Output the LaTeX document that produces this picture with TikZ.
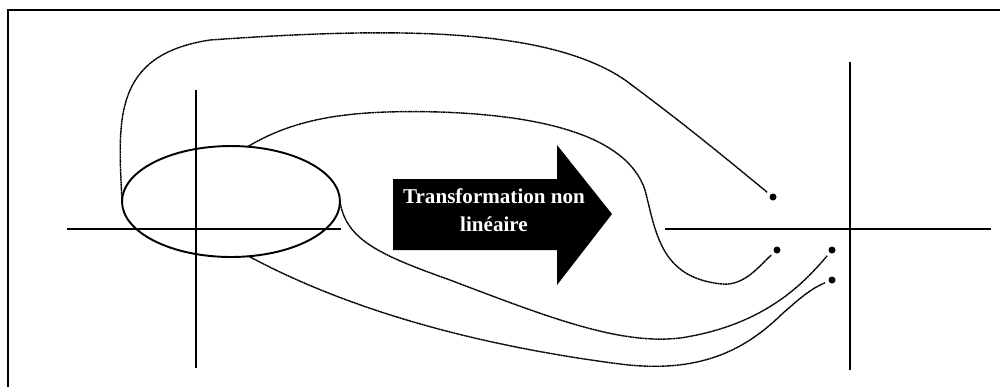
\documentclass[tikz,border=0pt]{standalone}
\usepackage{fontspec}
\setmainfont{Liberation Serif}
\usetikzlibrary{shapes.geometric}
\begin{document}
\begin{tikzpicture}[x=0.02cm,y=-0.02cm,
  axis/.style={line width=1.1pt},
  frameline/.style={line width=1.3pt},
  mapcurve/.style={line width=0.8pt, dash pattern=on 1.2pt off 0.25pt},
  ptdot/.style={circle, fill=black, inner sep=0pt, minimum size=0.14cm, outer sep=0.08cm},
  srcregion/.style={ellipse, draw, line width=1.1pt, inner sep=0pt, outer sep=0pt,
                 minimum width=4.36cm, minimum height=2.22cm},
  blockarrow/.style={fill=black},
  arrowtext/.style={text=white, font=\bfseries\fontsize{12}{15.9}\selectfont,
                    align=center, inner sep=0pt}]
\useasboundingbox (0,0) rectangle (1000,387);

% open frame: top and left edges
\coordinate (fbl) at (8,387);
\coordinate (ftl) at (8,10);
\coordinate (ftr) at (1000,10);
\draw[frameline] (fbl) -- (ftl) -- (ftr);

% left axes
\coordinate (lxw) at (67,229);  \coordinate (lxe) at (341,229);
\coordinate (lyn) at (196,90);  \coordinate (lys) at (196,368);
\draw[axis] (lxw) -- (lxe);
\draw[axis] (lyn) -- (lys);

% right axes
\coordinate (rxw) at (665,229); \coordinate (rxe) at (991,229);
\coordinate (ryn) at (850,62);  \coordinate (rys) at (850,370);
\draw[axis] (rxw) -- (rxe);
\draw[axis] (ryn) -- (rys);

% region in the source plane
\node[srcregion] (ell) at (231,201.5) {};

% image points
\node[ptdot] (p1) at (773,197) {};
\node[ptdot] (p2) at (777,250) {};
\node[ptdot] (p3) at (832,250) {};
\node[ptdot] (p4) at (832,280) {};

% block arrow with its label
\coordinate (a1) at (393,179); \coordinate (a2) at (557,179);
\coordinate (a3) at (557,145); \coordinate (a4) at (612,214);
\coordinate (a5) at (557,285); \coordinate (a6) at (557,250);
\coordinate (a7) at (393,250);
\fill[blockarrow] (a1) -- (a2) -- (a3) -- (a4) -- (a5) -- (a6) -- (a7) -- cycle;
\node[arrowtext] (lbl) at (494,210) {Transformation non\\lin\'eaire};

% mapping curves
\draw[mapcurve] (ell.west) .. controls (118,120) and (112,55) .. (210,40)
  .. controls (380,28) and (545,25) .. (625,80)
  .. controls (690,128) and (740,170) .. (p1);
\draw[mapcurve] (ell.73) .. controls (300,115) and (360,110) .. (440,112)
  .. controls (525,115) and (625,130) .. (645,190)
  .. controls (656,232) and (660,278) .. (722,284)
  .. controls (745,286) and (760,265) .. (p2);
\draw[mapcurve] (ell.east) .. controls (346,240) and (380,255) .. (450,280)
  .. controls (550,318) and (620,345) .. (680,338)
  .. controls (760,326) and (800,288) .. (p3);
\draw[mapcurve] (ell.-72) .. controls (330,300) and (450,342) .. (620,364)
  .. controls (700,374) and (745,350) .. (782,314)
  .. controls (800,298) and (812,288) .. (p4);
\end{tikzpicture}
\end{document}
